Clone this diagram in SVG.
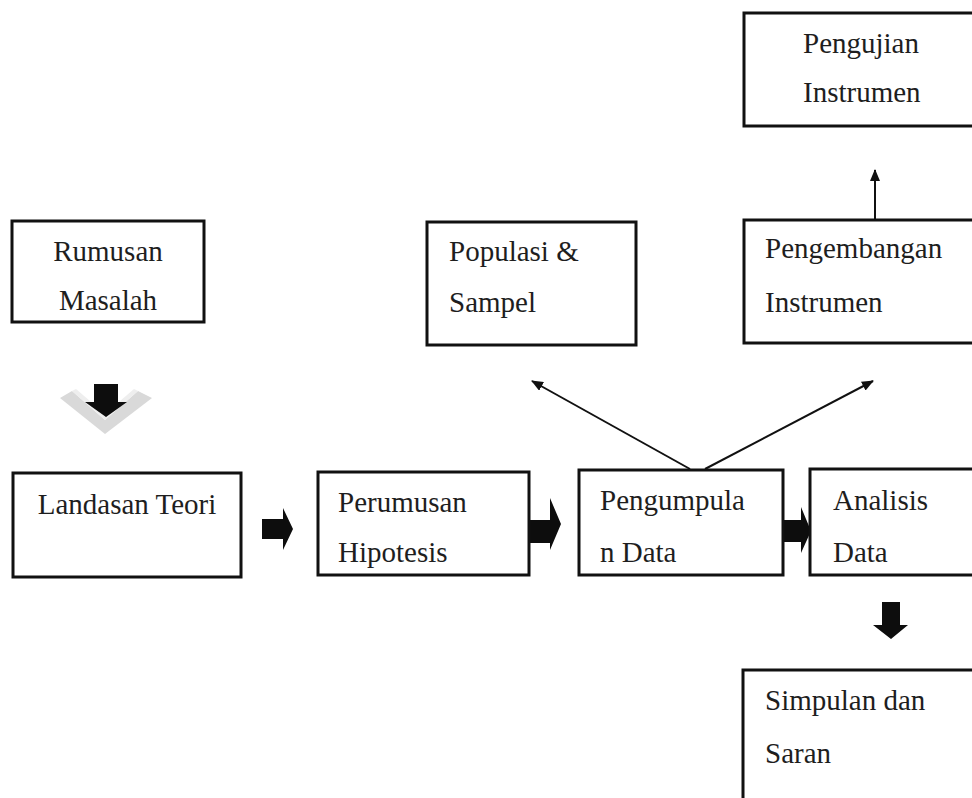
<svg xmlns="http://www.w3.org/2000/svg" width="972" height="798" viewBox="0 0 972 798">
<style>
.box{fill:#fff;stroke:#111;stroke-width:3}
.t{font-family:"Liberation Serif","Times New Roman",serif;font-size:29px;fill:#1e1e1e}
.c{text-anchor:middle}
.ln{stroke:#111;stroke-width:2;fill:none}
.blk{fill:#0d0d0d}
</style>
<defs>
<marker id="ah" markerWidth="12" markerHeight="10" refX="11" refY="5" orient="auto" markerUnits="userSpaceOnUse">
<path d="M0,0 L12,5 L0,10 Z" fill="#111"/>
</marker>
</defs>
<rect width="972" height="798" fill="#fff"/>

<g id="connectors">
<g id="arrow-rumusan-landasan">
<polygon points="60,398 72,391 105,420 138,391 152,398 105,434" fill="#d9d9d9"/>
<polygon points="72,391 105,420 138,391 134,389 105,414 76,389" fill="#eeeeee"/>
<polygon class="blk" points="94,384 118,384 118,402 127,402 106,417 85,402 94,402"/>
</g>
<polygon id="arrow-landasan-perumusan" class="blk" points="262,519 283,519 283,508 293,529 283,550 283,539 262,539"/>
<polygon id="arrow-perumusan-pengumpulan" class="blk" points="529,520 550,520 550,498 561,524 550,550 550,543 529,543"/>
<polygon id="arrow-pengumpulan-analisis" class="blk" points="783,520 801,520 801,507 811,531 801,553 801,542 783,542"/>
<polygon id="arrow-analisis-simpulan" class="blk" points="882,602 900,602 900,625 908,625 891,639 873,625 882,625"/>
<line class="ln" x1="690" y1="469" x2="532" y2="381" marker-end="url(#ah)"/>
<line class="ln" x1="705" y1="469" x2="873" y2="381" marker-end="url(#ah)"/>
<line class="ln" x1="875" y1="220" x2="875" y2="170" marker-end="url(#ah)"/>
</g>

<g id="node-pengujian">
<rect class="box" x="744" y="13" width="260" height="113"/>
<text class="t" x="803" y="53">Pengujian</text>
<text class="t" x="803" y="102">Instrumen</text>
</g>

<g id="node-rumusan">
<rect class="box" x="12" y="221" width="192" height="101"/>
<text class="t c" x="108" y="261">Rumusan</text>
<text class="t c" x="108" y="310">Masalah</text>
</g>

<g id="node-populasi">
<rect class="box" x="427" y="222" width="209" height="123"/>
<text class="t" x="449" y="261">Populasi &amp;</text>
<text class="t" x="449" y="312">Sampel</text>
</g>

<g id="node-pengembangan">
<rect class="box" x="744" y="220" width="260" height="123"/>
<text class="t" x="765" y="258">Pengembangan</text>
<text class="t" x="765" y="312">Instrumen</text>
</g>

<g id="node-landasan">
<rect class="box" x="13" y="473" width="228" height="104"/>
<text class="t c" x="127" y="514">Landasan Teori</text>
</g>

<g id="node-perumusan">
<rect class="box" x="318" y="472" width="211" height="103"/>
<text class="t" x="338" y="512">Perumusan</text>
<text class="t" x="338" y="562">Hipotesis</text>
</g>

<g id="node-pengumpulan">
<rect class="box" x="579" y="470" width="204" height="105"/>
<text class="t" x="600" y="510">Pengumpula</text>
<text class="t" x="600" y="562">n Data</text>
</g>

<g id="node-analisis">
<rect class="box" x="810" y="469" width="200" height="106"/>
<text class="t" x="833" y="510">Analisis</text>
<text class="t" x="833" y="562">Data</text>
</g>

<g id="node-simpulan">
<rect class="box" x="743" y="670" width="260" height="150"/>
<text class="t" x="765" y="710">Simpulan dan</text>
<text class="t" x="765" y="763">Saran</text>
</g>
</svg>
